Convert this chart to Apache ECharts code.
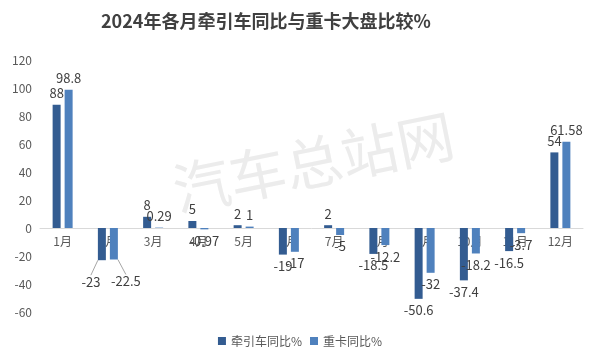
<!DOCTYPE html>
<html><head><meta charset="utf-8">
<script src="https://cdn.jsdelivr.net/npm/echarts@6/dist/echarts.min.js"></script>
<style>html,body{margin:0;padding:0;background:#fff}#c{width:600px;height:364px}</style>
</head><body><div id="c"></div>
<script>
const titleText = '2024年各月牵引车同比与重卡大盘比较%';
const categories = ['1月','2月','3月','4月','5月','6月','7月','8月','9月','10月','11月','12月'];
const tractor = [88, -23, 8, 5, 2, -19, 2, -18.5, -50.6, -37.4, -16.5, 54];
const heavy = [98.8, -22.5, 0.29, -0.97, 1, -17, -5, -12.2, -32, -18.2, -3.7, 61.58];
const seriesNames = ['牵引车同比%', '重卡同比%'];
const yTicks = [-60, 120, 20];

const font = '"Noto Sans CJK SC", "Noto Sans", sans-serif';
// moved labels (Feb) with leader lines
const moved = {'0-1': [-11, 10], '1-1': [12, 10]};
function mk(vals, si){
  return vals.map((v, i) => ({value: v,
    label: {position: v >= 0 ? 'top' : 'bottom'},
    labelLine: {show: !!moved[si + '-' + i]}}));
}
const chart = echarts.init(document.getElementById('c'));
chart.setOption({
  animation: false,
  backgroundColor: '#fff',
  title: {text: titleText, left: 96, top: 7,
    textStyle: {fontSize: 18, fontWeight: 'bold', color: '#404040', fontFamily: font}},
  graphic: [{type: 'text', left: 168, top: 106, rotation: 0.2,
    style: {text: '汽车总站网', font: '57px ' + font, fill: '#ececec'}, z: -1}],
  legend: {bottom: 12, left: 'center', itemWidth: 8, itemHeight: 8, itemGap: 8, icon: 'rect',
    textStyle: {fontSize: 12, color: '#595959', fontFamily: font}},
  grid: {left: 40, right: 17, top: 60, bottom: 52},
  xAxis: {type: 'category', data: categories,
    axisLine: {onZero: true, lineStyle: {color: '#d9d9d9'}},
    axisTick: {show: false},
    axisLabel: {fontSize: 12, color: '#595959', fontFamily: font, margin: -77}},
  yAxis: {type: 'value', min: yTicks[0], max: yTicks[1], interval: yTicks[2],
    splitLine: {show: false}, axisLine: {show: false}, axisTick: {show: false},
    axisLabel: {fontSize: 12, color: '#595959', fontFamily: font}},
  labelLayout: function (p) {
    const k = p.seriesIndex + '-' + p.dataIndex;
    if (moved[k]) return {dx: moved[k][0], dy: moved[k][1]};
    return {};
  },
  series: [
    {name: seriesNames[0], type: 'bar', data: mk(tractor, 0), barWidth: 8, barGap: '50%',
      itemStyle: {color: '#335c91'},
      labelLine: {show: false, lineStyle: {color: '#a6a6a6', width: 1}},
      label: {show: true, fontSize: 13, color: '#404040', fontFamily: font}},
    {name: seriesNames[1], type: 'bar', data: mk(heavy, 1), barWidth: 8,
      itemStyle: {color: '#4f81bd'},
      labelLine: {show: false, lineStyle: {color: '#a6a6a6', width: 1}},
      label: {show: true, fontSize: 13, color: '#404040', fontFamily: font}}
  ]
});
</script></body></html>
